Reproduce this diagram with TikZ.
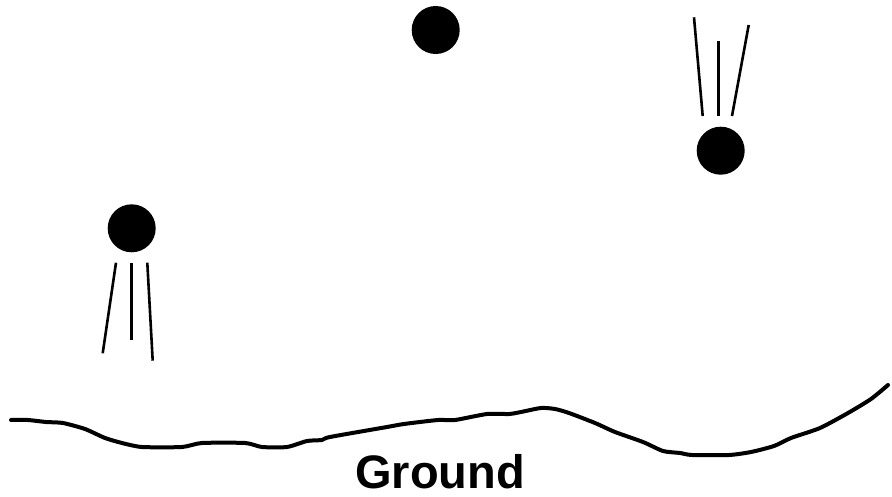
\documentclass[tikz,border=0pt]{standalone}
\usepackage{fontspec}
\setmainfont{Liberation Sans}
\usetikzlibrary{positioning}
\tikzset{
  ball/.style={circle, fill=black, inner sep=0pt, minimum size=48pt},
  trail/.style={line width=2.6pt},
  ground/.style={line width=4pt, line join=round, line cap=round},
}

\begin{document}
\begin{tikzpicture}[x=1pt, y=-1pt]
  \useasboundingbox (0,0) rectangle (892,497);
  % falling balls with their trails
  \node[ball] (ballL) at (131.7,228.3) {};
  \draw[trail] (116,262.7) -- (102.7,353.3);
  \draw[trail] (131.7,262.7) -- (131.7,340);
  \draw[trail] (147.3,262.7) -- (152.7,360.7);
  \node[ball] (ballT) at (435.7,30) {};
  \node[ball] (ballR) at (720.7,150.7) {};
  \draw[trail] (694,17.3) -- (702.7,116);
  \draw[trail] (718.7,41.3) -- (718.7,116);
  \draw[trail] (748.7,25) -- (732,116);
  % ground
  \draw[ground] plot[smooth, tension=0.4] coordinates {
    (11,420) (28,420) (46,422) (63,423) (85,429) (105,438) (122,443)
    (142,447) (182,447) (202,443) (245,443) (262,447) (287,447)
    (307,441) (322,440) (330,437) (387,427) (404,424) (438,420)
    (455,420) (487,414) (509,414) (521,412) (541,408) (555,409)
    (569,413) (595,423) (615,432) (643,442) (663,451) (680,453)
    (692,455) (729,455) (751,452) (774,446) (791,438) (820,428)
    (848,413) (871,399) (888,385)};
  \node[anchor=base, inner sep=0pt, font=\bfseries\fontsize{47}{50}\selectfont] (label) at (440,488) {Ground};
\end{tikzpicture}
\end{document}
